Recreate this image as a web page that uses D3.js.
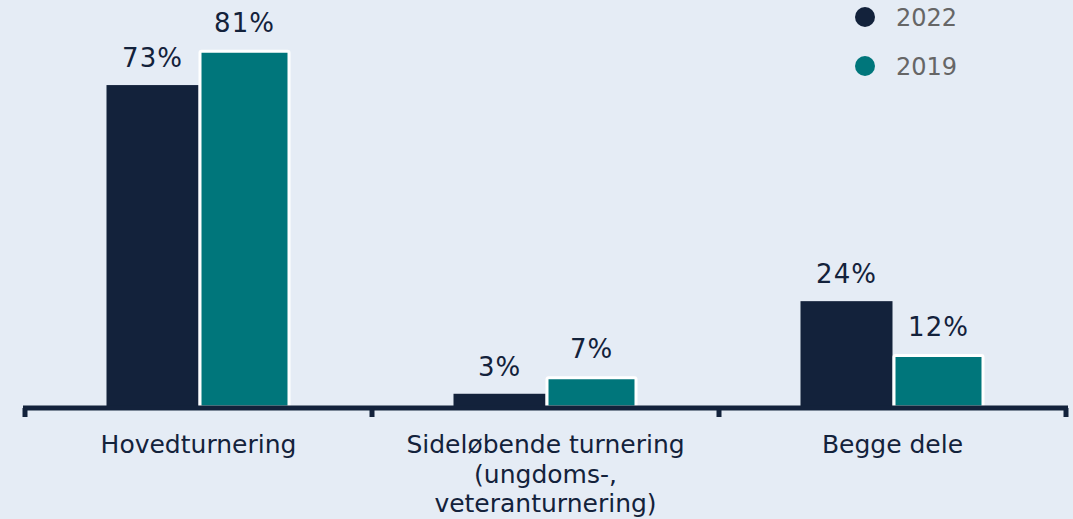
<!DOCTYPE html>
<html>
<head>
<meta charset="utf-8">
<script src="https://cdn.jsdelivr.net/npm/d3@7/dist/d3.min.js"></script>
<style>
  html, body { margin: 0; padding: 0; background: #e5ecf5; }
  svg { display: block; }
  text { font-family: "DejaVu Sans", Verdana, sans-serif; }
</style>
</head>
<body>
<svg id="chart" width="1073" height="519"></svg>
<script>
// Share of participants by tournament type
const categories = [
  ["Hovedturnering"],
  ["Sideløbende turnering", "(ungdoms-,", "veteranturnering)"],
  ["Begge dele"]
];
const seriesNames = ["2022", "2019"];
const values2022 = [73, 3, 24];
const values2019 = [81, 7, 12];
const colors = { "2022": "#13223b", "2019": "#00767b" };

const W = 1073, H = 519;
const margin = { left: 25, right: 7, baseline: 407 };

const svg = d3.select("#chart");
svg.append("rect").attr("width", W).attr("height", H).attr("fill", "#e5ecf5");

const catKeys = categories.map(c => c.join(" "));
const x0 = d3.scaleBand().domain(catKeys).range([margin.left, W - margin.right]).paddingInner(0).paddingOuter(0);
const x1 = d3.scaleBand().domain(seriesNames).range([0, 184]);
const y = d3.scaleLinear().domain([0, 100]).range([margin.baseline, margin.baseline - 441]);

const data = catKeys.map((k, i) => ({ key: k, "2022": values2022[i], "2019": values2019[i] }));

const groups = svg.append("g").selectAll("g").data(data).join("g")
  .attr("transform", d => `translate(${x0(d.key) + (x0.bandwidth() - 184) / 2},0)`);

// 2022 bars
groups.append("rect")
  .attr("x", x1("2022"))
  .attr("width", x1.bandwidth())
  .attr("y", d => y(d["2022"]))
  .attr("height", d => y(0) - y(d["2022"]))
  .attr("fill", colors["2022"]);

// 2019 bars with white outline
groups.append("rect")
  .attr("x", x1("2019") + 1.5)
  .attr("width", x1.bandwidth() - 3)
  .attr("y", d => y(d["2019"]) + 1.5)
  .attr("height", d => y(0) - y(d["2019"]) - 1.5)
  .attr("rx", 1.5)
  .attr("fill", colors["2019"])
  .attr("stroke", "#ffffff")
  .attr("stroke-width", 3);

// Value labels
seriesNames.forEach(s => {
  groups.append("text")
    .attr("x", x1(s) + x1.bandwidth() / 2)
    .attr("y", d => y(d[s]) - 18)
    .attr("text-anchor", "middle")
    .attr("font-size", 26)
    .attr("letter-spacing", 1)
    .attr("fill", "#13223b")
    .text(d => d[s] + "%");
});

// Category axis
const axis = d3.axisBottom(x0).tickSize(0).tickFormat("");
const axG = svg.append("g").attr("transform", `translate(0,${margin.baseline + 1})`).call(axis);
axG.select(".domain").remove();
axG.append("line")
  .attr("x1", margin.left - 2).attr("x2", W - margin.right + 2)
  .attr("y1", 0).attr("y2", 0)
  .attr("stroke", "#13223b").attr("stroke-width", 5);
const tickXs = [...catKeys.map(k => x0(k)), x0.range()[1]];
axG.selectAll(".tk").data(tickXs).join("line")
  .attr("class", "tk")
  .attr("x1", d => d).attr("x2", d => d)
  .attr("y1", 0).attr("y2", 9)
  .attr("stroke", "#13223b").attr("stroke-width", 5);

// Category labels (multi-line)
categories.forEach((lines, i) => {
  const t = svg.append("text")
    .attr("x", x0(catKeys[i]) + x0.bandwidth() / 2)
    .attr("y", 453)
    .attr("text-anchor", "middle")
    .attr("font-size", 25)
    .attr("fill", "#13223b");
  lines.forEach((ln, j) => {
    t.append("tspan")
      .attr("x", x0(catKeys[i]) + x0.bandwidth() / 2)
      .attr("dy", j === 0 ? 0 : 29.5)
      .text(ln);
  });
});

// Legend
const legend = svg.append("g").attr("transform", "translate(865,17)");
seriesNames.forEach((s, i) => {
  const g = legend.append("g").attr("transform", `translate(0,${i * 49})`);
  g.append("circle").attr("r", 10).attr("fill", colors[s]);
  g.append("text").attr("x", 31).attr("y", 9)
    .attr("font-size", 24).attr("fill", "#666666").text(s);
});
</script>
</body>
</html>
